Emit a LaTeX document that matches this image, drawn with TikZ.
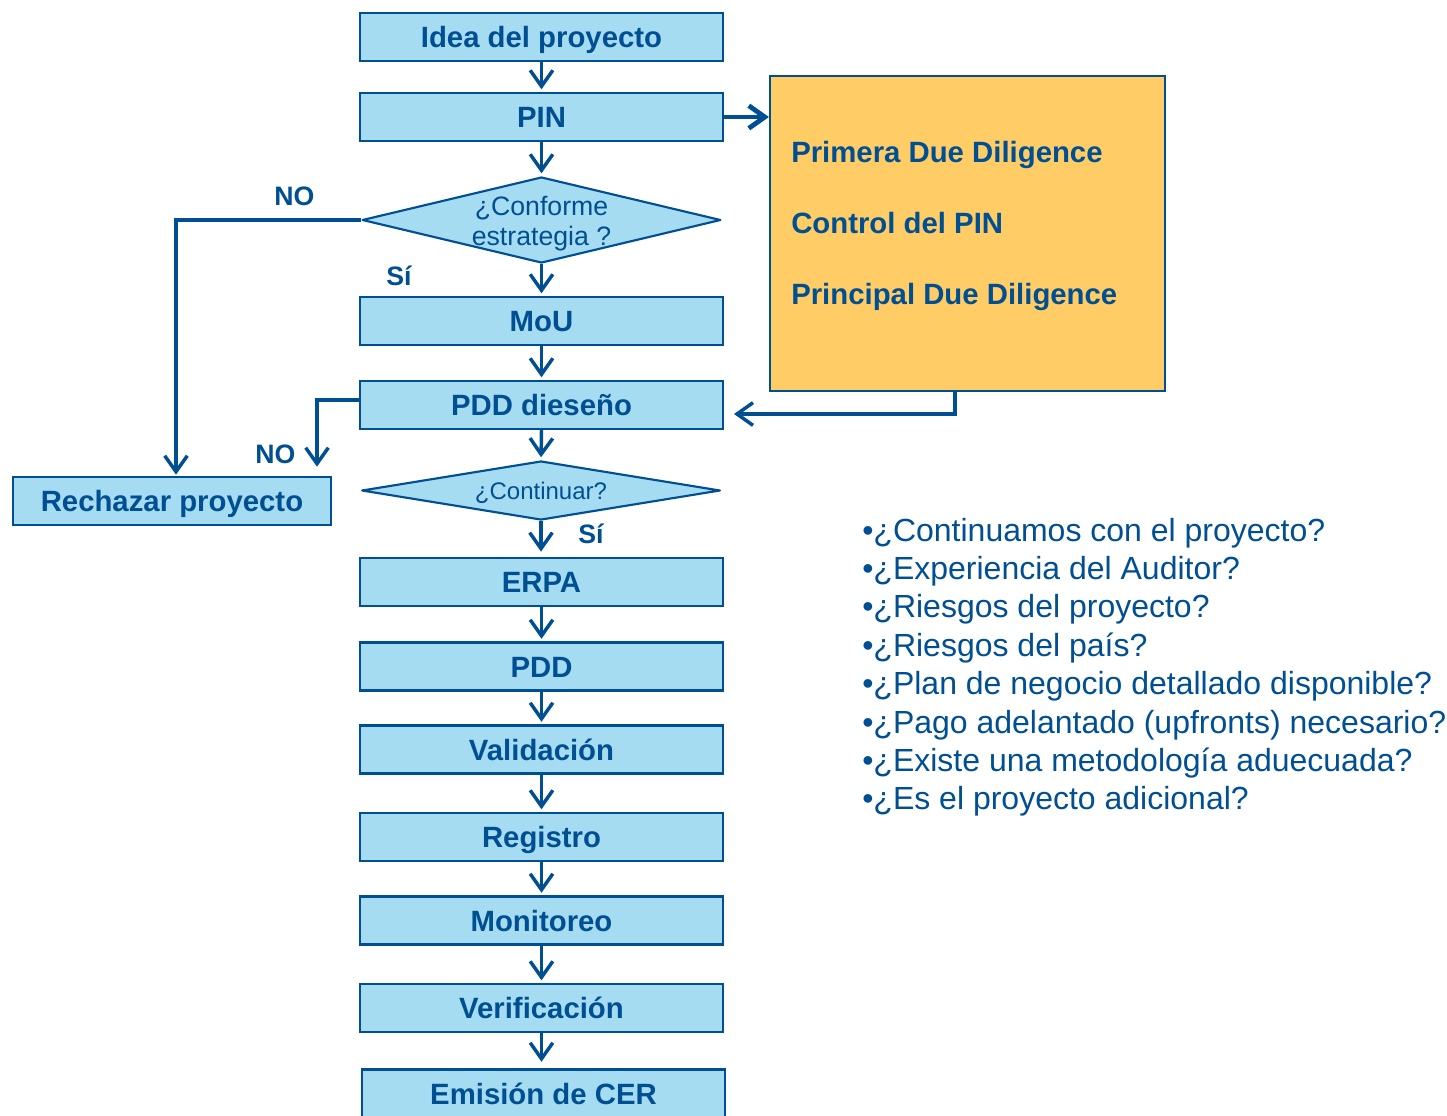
\documentclass[tikz,border=0pt]{standalone}
\usepackage{fontspec}
\setmainfont{Liberation Sans}
\usetikzlibrary{arrows.meta,shapes.geometric,calc}
\definecolor{dblue}{RGB}{0,79,146}
\definecolor{lblue}{RGB}{166,220,241}
\definecolor{gold}{RGB}{255,204,102}
\begin{document}
\begin{tikzpicture}[x=0.75pt,y=-0.75pt,
  stepbox/.style={draw=dblue, fill=lblue, line width=1.6pt, inner sep=0pt,
    minimum width=272.25pt, minimum height=36pt, text=dblue,
    font=\fontsize{22}{26.4}\selectfont\bfseries,
    text height=15.75pt, text depth=0pt},
  decision/.style={shape=diamond, draw=dblue, fill=lblue, line width=1.6pt,
    line join=round, inner sep=0pt, minimum width=269pt},
  qtext/.style={text=dblue, inner sep=0pt, anchor=base},
  lab/.style={text=dblue, inner sep=0pt, anchor=base west,
    font=\fontsize{20}{24}\selectfont\bfseries},
  ddtext/.style={text=dblue, inner sep=0pt, anchor=base west,
    font=\fontsize{22}{26.4}\selectfont\bfseries},
  bullet/.style={text=dblue, inner sep=0pt, anchor=base west,
    font=\fontsize{24}{28.8}\selectfont},
  conn/.style={draw=dblue, line width=2.6pt},
  arr/.style={conn, shorten >=2pt,
    -{Straight Barb[length=12pt,width=17pt]}}]
\clip (0,0) rectangle (1447,1115);
\fill[white] (0,0) rectangle (1447,1115);

% main column of steps
\node[stepbox] (idea) at (541.5,37) {Idea del proyecto};
\node[stepbox] (pin)  at (541.5,117) {PIN};
\node[decision, minimum height=64.5pt] (d1) at (541.5,220) {};
\node[qtext, font=\fontsize{20}{24}\selectfont] (d1a) at (541.5,215) {¿Conforme};
\node[qtext, font=\fontsize{20}{24}\selectfont] (d1b) at (541.5,245) {estrategia ?};
\node[stepbox] (mou)  at (541.5,321) {MoU};
\node[stepbox] (pdd1) at (541.5,405) {PDD dieseño};
\node[decision, minimum height=44.25pt] (d2) at (541,490.5) {};
\node[qtext, font=\fontsize{18}{21.6}\selectfont] (d2a) at (541,499) {¿Continuar?};
\node[stepbox] (erpa) at (541.5,582) {ERPA};
\node[stepbox] (pdd)  at (541.5,666.5) {PDD};
\node[stepbox] (val)  at (541.5,749.5) {Validación};
\node[stepbox] (reg)  at (541.5,837) {Registro};
\node[stepbox] (mon)  at (541.5,920.5) {Monitoreo};
\node[stepbox] (ver)  at (541.5,1008) {Verificación};
\node[stepbox] (cer)  at (543.5,1093.5) {Emisión de CER};

% rejection box
\node[stepbox, minimum width=238.5pt] (rech) at (172,501) {Rechazar proyecto};

% due diligence box
\node[draw=dblue, fill=gold, line width=1.6pt, inner sep=0pt,
  minimum width=296.25pt, minimum height=236.25pt] (dd) at (967.5,233.5) {};
\node[ddtext] (dd1) at (791,162) {Primera Due Diligence};
\node[ddtext] (dd2) at (791,233) {Control del PIN};
\node[ddtext] (dd3) at (791,304) {Principal Due Diligence};

% branch labels
\node[lab] (no1) at (274,205) {NO};
\node[lab] (si1) at (386,285) {Sí};
\node[lab] (no2) at (255,463) {NO};
\node[lab] (si2) at (578,543) {Sí};

% checklist
\node[bullet] (q1) at (862,541.0) {•¿Continuamos con el proyecto?};
\node[bullet] (q2) at (862,579.4) {•¿Experiencia del Auditor?};
\node[bullet] (q3) at (862,617.8) {•¿Riesgos del proyecto?};
\node[bullet] (q4) at (862,656.2) {•¿Riesgos del país?};
\node[bullet] (q5) at (862,694.6) {•¿Plan de negocio detallado disponible?};
\node[bullet] (q6) at (862,733.0) {•¿Pago adelantado (upfronts) necesario?};
\node[bullet] (q7) at (862,771.4) {•¿Existe una metodología aduecuada?};
\node[bullet] (q8) at (862,809.8) {•¿Es el proyecto adicional?};

% vertical flow
\draw[arr] (idea.south) -- (pin.north);
\draw[arr] (pin.south) -- (d1.north);
\draw[arr] (d1.south) -- (mou.north);
\draw[arr] (mou.south) -- (pdd1.north);
\draw[arr] (pdd1.south) -- (d2.north);
\draw[arr, shorten >=4pt] (d2.south) -- (d2.south |- erpa.north);
\draw[arr] (erpa.south) -- (pdd.north);
\draw[arr] (pdd.south) -- (val.north);
\draw[arr] (val.south) -- (reg.north);
\draw[arr] (reg.south) -- (mon.north);
\draw[arr] (mon.south) -- (ver.north);
\draw[arr, shorten >=5pt] (ver.south) -- (ver.south |- cer.north);

% rejection branches
\coordinate (nr1) at (176,476);
\draw[arr, shorten >=1pt] (d1.west) -| (nr1);
\coordinate (nr2) at (317,468);
\draw[arr, shorten >=1pt] ([yshift=3.75pt]pdd1.west) -| (nr2);

% due diligence links
\draw[arr, line width=3.6pt, shorten >=0pt] (pin.east) -- (pin.east -| dd.west);
\coordinate (bk) at (734,414);
\draw[arr, shorten >=0pt] ([xshift=-9.375pt]dd.south) |- (bk);
\end{tikzpicture}
\end{document}
